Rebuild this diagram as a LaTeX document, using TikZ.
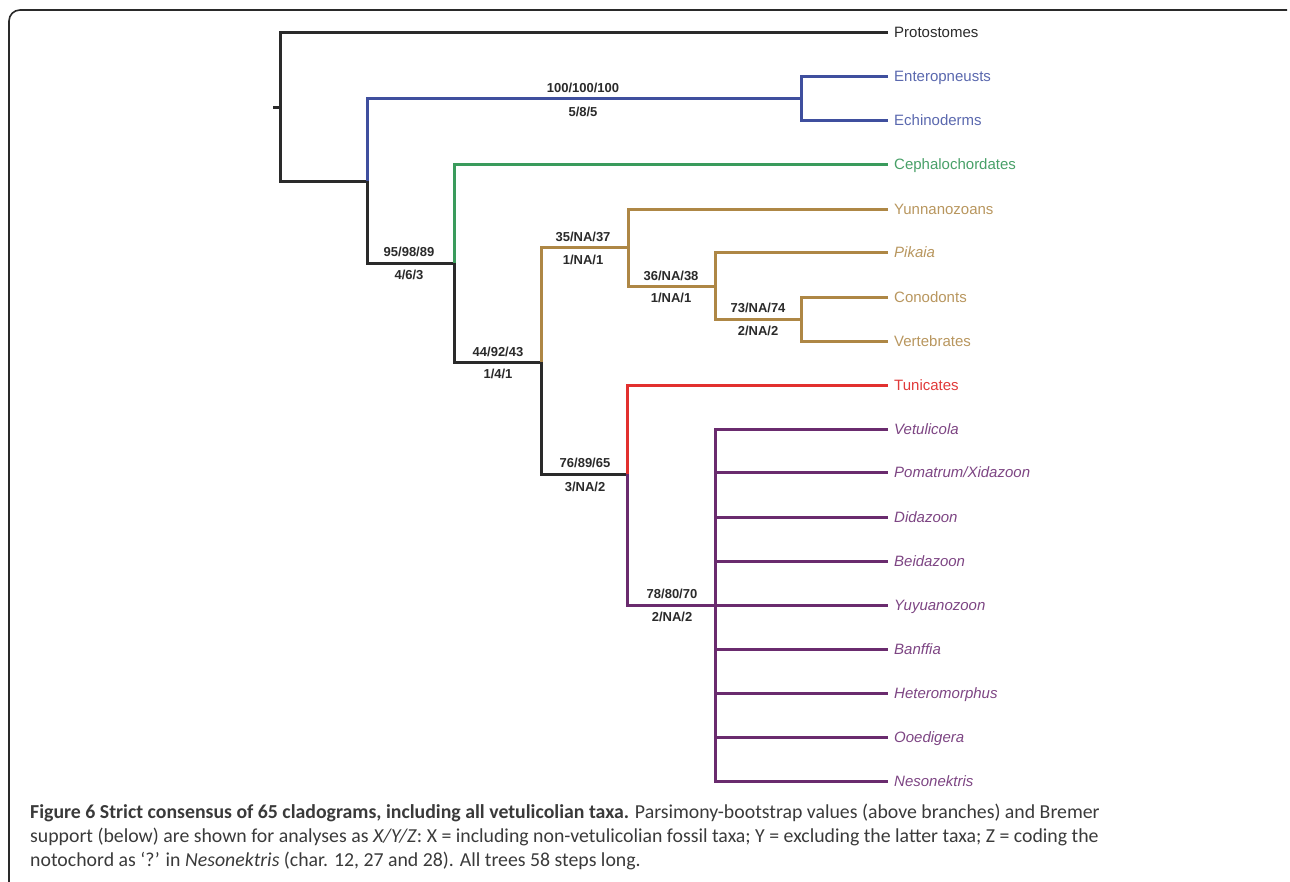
\documentclass[tikz,border=0pt]{standalone}
\usepackage{fontspec}
\setmainfont{Liberation Sans}
\newfontfamily\capfont{Carlito}
\definecolor{blk}{HTML}{2A2A2A}
\definecolor{bluL}{HTML}{3F4F9E}
\definecolor{bluT}{HTML}{5A68AE}
\definecolor{grnL}{HTML}{3A9B5C}
\definecolor{grnT}{HTML}{48A068}
\definecolor{brnL}{HTML}{AE8745}
\definecolor{brnT}{HTML}{B8965E}
\definecolor{redL}{HTML}{E2302F}
\definecolor{redT}{HTML}{E03A3A}
\definecolor{purL}{HTML}{6A2B6E}
\definecolor{purT}{HTML}{7D4583}
\definecolor{capc}{HTML}{3A3A3A}
\begin{document}
\begin{tikzpicture}[x=1pt,y=-1pt,
  br/.style={line width=3pt},
  leaf/.style={anchor=west, inner xsep=6pt, inner ysep=0pt, text height=10.7pt, text depth=0pt, font=\fontsize{15}{18}\selectfont},
  bs/.style={inner sep=0pt, text height=9.3pt, text depth=0pt, text=blk, font=\bfseries\fontsize{13}{15}\selectfont},
  capline/.style={anchor=base west, inner sep=0pt, text=capc, font=\capfont\fontsize{19.8}{24}\selectfont}]
\useasboundingbox (0,0) rectangle (1290,881);
% frame
\draw[line width=1.6pt, blk, rounded corners=11pt] (9,885) -- (9,10) -- (1287,10);
% leaves
\node[leaf, text=blk]  (proto) at (888,32)  {Protostomes};
\node[leaf, text=bluT] (ent)   at (888,76)  {Enteropneusts};
\node[leaf, text=bluT] (ech)   at (888,120) {Echinoderms};
\node[leaf, text=grnT] (ceph)  at (888,164) {Cephalochordates};
\node[leaf, text=brnT] (yun)   at (888,209) {Yunnanozoans};
\node[leaf, text=brnT] (pik)   at (888,252) {\itshape Pikaia};
\node[leaf, text=brnT] (con)   at (888,297) {Conodonts};
\node[leaf, text=brnT] (ver)   at (888,341) {Vertebrates};
\node[leaf, text=redT] (tun)   at (888,385) {Tunicates};
\node[leaf, text=purT] (vet)   at (888,429) {\itshape Vetulicola};
\node[leaf, text=purT] (pom)   at (888,472) {\itshape Pomatrum/Xidazoon};
\node[leaf, text=purT] (did)   at (888,517) {\itshape Didazoon};
\node[leaf, text=purT] (bei)   at (888,561) {\itshape Beidazoon};
\node[leaf, text=purT] (yuy)   at (888,605) {\itshape Yuyuanozoon};
\node[leaf, text=purT] (ban)   at (888,649) {\itshape Banffia};
\node[leaf, text=purT] (het)   at (888,693) {\itshape Heteromorphus};
\node[leaf, text=purT] (ooe)   at (888,737) {\itshape Ooedigera};
\node[leaf, text=purT] (nes)   at (888,781) {\itshape Nesonektris};
% internal points
\coordinate (tick) at (273,107);
\coordinate (r) at (280,107);
\coordinate (c0) at (280,181);
\coordinate (n1) at (367,181);
\coordinate (n2) at (801,98);
\coordinate (n3) at (454,263);
\coordinate (n4) at (541,362);
\coordinate (n5) at (628,247);
\coordinate (n6) at (715,286);
\coordinate (n7) at (801,319);
\coordinate (n8) at (627,474);
\coordinate (n9) at (715,605);
% branches
\draw[br, blk] (tick) -- (r);
\draw[br, blk] (proto.west) -| (c0) -- (n1);
\draw[br, bluL] (n1) |- (n2);
\draw[br, bluL] (ent.west) -| (n2) |- (ech.west);
\draw[br, blk] (n1) |- (n3);
\draw[br, grnL] (n3) |- (ceph.west);
\draw[br, blk] (n3) |- (n4);
\draw[br, brnL] (n4) |- (n5);
\draw[br, brnL] (yun.west) -| (n5) |- (n6);
\draw[br, brnL] (pik.west) -| (n6) |- (n7);
\draw[br, brnL] (con.west) -| (n7) |- (ver.west);
\draw[br, blk] (n4) |- (n8);
\draw[br, redL] (n8) |- (tun.west);
\draw[br, purL] (n8) |- (n9);
\draw[br, purL] (vet.west) -| (n9) |- (nes.west);
\foreach \l in {pom,did,bei,yuy,ban,het,ooe}
  \draw[br, purL] (\l.west -| n9) -- (\l.west);
% support values
\node[bs] (s1a) at (583,88)  {100/100/100};
\node[bs] (s1b) at (583,112) {5/8/5};
\node[bs] (s2a) at (409,252) {95/98/89};
\node[bs] (s2b) at (409,275) {4/6/3};
\node[bs] (s3a) at (498,352) {44/92/43};
\node[bs] (s3b) at (498,374) {1/4/1};
\node[bs] (s4a) at (583,237) {35/NA/37};
\node[bs] (s4b) at (583,260) {1/NA/1};
\node[bs] (s5a) at (671,276) {36/NA/38};
\node[bs] (s5b) at (671,298) {1/NA/1};
\node[bs] (s6a) at (758,308) {73/NA/74};
\node[bs] (s6b) at (758,331) {2/NA/2};
\node[bs] (s7a) at (585,463) {76/89/65};
\node[bs] (s7b) at (585,487) {3/NA/2};
\node[bs] (s8a) at (672,594) {78/80/70};
\node[bs] (s8b) at (672,617) {2/NA/2};
% caption
\node[capline] (cap1) at (30,818) {\textbf{Figure 6 Strict consensus of 65 cladograms, including all vetulicolian taxa.} Parsimony-bootstrap values (above branches) and Bremer};
\node[capline] (cap2) at (30,842) {support (below) are shown for analyses as \textit{X/Y/Z}: X = including non-vetulicolian fossil taxa; Y = excluding the latter taxa; Z = coding the};
\node[capline] (cap3) at (30,866) {notochord as ‘?’ in \textit{Nesonektris} (char. 12, 27 and 28). All trees 58 steps long.};
\end{tikzpicture}
\end{document}
